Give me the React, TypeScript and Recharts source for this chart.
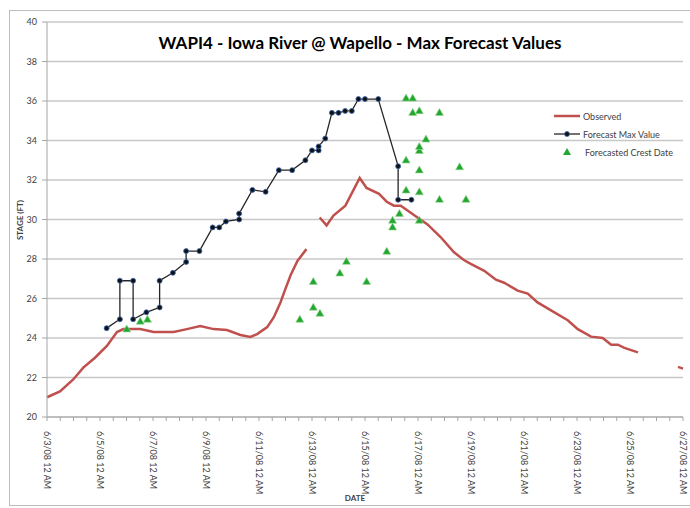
import React from "react";
import {
  ComposedChart,
  Line,
  Scatter,
  XAxis,
  YAxis,
  CartesianGrid,
  Legend,
} from "recharts";

// x values are days since 6/3/08 12 AM
const dateLabels = [
  "6/3/08 12 AM", "6/5/08 12 AM", "6/7/08 12 AM", "6/9/08 12 AM",
  "6/11/08 12 AM", "6/13/08 12 AM", "6/15/08 12 AM", "6/17/08 12 AM",
  "6/19/08 12 AM", "6/21/08 12 AM", "6/23/08 12 AM", "6/25/08 12 AM",
  "6/27/08 12 AM",
];
const stageTicks = [20, 22, 24, 26, 28, 30, 32, 34, 36, 38, 40];

// observed stage (null = missing record)
const observed: [number, number | null][] = [
  [0, 21.0], [0.49, 21.3], [0.99, 21.9], [1.37, 22.5], [1.81, 23.0],
  [2.26, 23.6], [2.64, 24.3], [2.88, 24.45], [3.52, 24.45], [4.02, 24.3],
  [4.78, 24.3], [5.28, 24.45], [5.78, 24.6], [6.29, 24.45], [6.79, 24.4],
  [7.3, 24.15], [7.67, 24.05], [7.93, 24.2], [8.31, 24.55], [8.56, 25.05],
  [8.81, 25.8], [9.0, 26.5], [9.2, 27.2], [9.45, 27.9], [9.79, 28.5],
  [10.0, null],
  [10.29, 30.1], [10.55, 29.7], [10.81, 30.2], [11.26, 30.7], [11.8, 32.1],
  [12.06, 31.6], [12.53, 31.3], [12.82, 30.9], [13.09, 30.7], [13.35, 30.7],
  [13.98, 30.1], [14.36, 29.75], [14.86, 29.1], [15.35, 28.35], [15.73, 27.95],
  [15.99, 27.75], [16.5, 27.4], [16.94, 26.95], [17.25, 26.8], [17.76, 26.4],
  [18.14, 26.25], [18.51, 25.8], [19.02, 25.4], [19.65, 24.9], [20.03, 24.45],
  [20.53, 24.07], [20.97, 24.0], [21.29, 23.66], [21.54, 23.66], [21.79, 23.5],
  [22.3, 23.27],
  [23.0, null],
  [23.81, 22.54], [24.0, 22.45],
];

const forecastMax: [number, number][] = [
  [2.25, 24.5], [2.75, 24.95], [2.75, 26.9], [3.25, 26.9], [3.25, 24.95],
  [3.75, 25.3], [4.25, 25.55], [4.25, 26.9], [4.75, 27.3], [5.25, 27.85],
  [5.25, 28.4], [5.75, 28.4], [6.25, 29.6], [6.5, 29.6], [6.75, 29.9],
  [7.25, 30.0], [7.25, 30.3], [7.75, 31.5], [8.25, 31.4], [8.75, 32.5],
  [9.25, 32.5], [9.75, 33.0], [10.0, 33.5], [10.25, 33.5], [10.25, 33.7],
  [10.5, 34.1], [10.75, 35.4], [11.0, 35.4], [11.25, 35.5], [11.5, 35.5],
  [11.75, 36.1], [12.0, 36.1], [12.5, 36.1], [13.25, 32.7], [13.25, 31.0],
  [13.75, 31.0],
];

const crestDates: [number, number][] = [
  [3.01, 24.46], [3.52, 24.85], [3.79, 24.95], [9.54, 24.95], [10.05, 25.56],
  [10.3, 25.25], [10.05, 26.86], [11.05, 27.29], [11.3, 27.88], [12.06, 26.86],
  [12.82, 28.39], [13.04, 29.62], [13.04, 29.96], [13.3, 30.31], [14.05, 29.96],
  [13.55, 31.49], [14.05, 31.4], [14.81, 31.02], [15.81, 31.02], [13.55, 33.01],
  [14.05, 32.51], [15.57, 32.67], [14.05, 33.49], [14.05, 33.69], [14.3, 34.07],
  [13.8, 35.42], [14.05, 35.51], [14.81, 35.42], [13.55, 36.15], [13.8, 36.15],
];

const toRows = (arr: [number, number | null][]) => arr.map(([d, v]) => ({ d, v }));

const xTicks = Array.from({ length: 49 }, (_, i) => i / 2);

const RED = "#c0504d";
const GREEN = "#22a832";

function DateTick(props: any) {
  const { x, y, payload } = props;
  const i = payload.value / 2;
  const label = Number.isInteger(i) ? dateLabels[i] : "";
  return (
    <g transform={`translate(${x},${y})`}>
      <text transform="rotate(90)" x={8} dy="0.35em" fontSize={9} fill="#404040">
        {label}
      </text>
    </g>
  );
}

function Triangle(props: any) {
  const { cx, cy } = props;
  if (cx == null || cy == null) return null;
  return (
    <polygon
      points={`${cx},${cy - 4} ${cx + 4},${cy + 3} ${cx - 4},${cy + 3}`}
      fill={GREEN}
      stroke="#9ad48f"
      strokeWidth={0.6}
    />
  );
}

function LegendBox() {
  const row = { display: "flex", alignItems: "center", height: 18, fontSize: 9, color: "#404040" };
  return (
    <div style={{ fontFamily: "Lato, sans-serif" }}>
      <div style={row}>
        <svg width={27} height={10}>
          <line x1={0} y1={5} x2={26} y2={5} stroke={RED} strokeWidth={2.5} />
        </svg>
        <span style={{ marginLeft: 2 }}>Observed</span>
      </div>
      <div style={row}>
        <svg width={27} height={10}>
          <line x1={0} y1={5} x2={26} y2={5} stroke="#262626" strokeWidth={1.3} />
          <circle cx={13} cy={5} r={2.5} fill="#111" stroke="#3d6bb3" strokeWidth={0.8} />
        </svg>
        <span style={{ marginLeft: 2 }}>Forecast Max Value</span>
      </div>
      <div style={row}>
        <svg width={27} height={10}>
          <polygon points="13,1 17,8 9,8" fill={GREEN} />
        </svg>
        <span style={{ marginLeft: 4 }}>Forecasted Crest Date</span>
      </div>
    </div>
  );
}

export default function App() {
  return (
    <div
      style={{
        position: "absolute",
        left: 0,
        top: 0,
        width: 690,
        height: 508,
        background: "#fff",
        fontFamily: "Lato, sans-serif",
        overflow: "hidden",
      }}
    >
      <div
        style={{
          position: "absolute",
          left: 9,
          top: 10,
          width: 690,
          height: 494,
          border: "1px solid #bcbcbc",
        }}
      />
      <div style={{ position: "absolute", left: 0, top: 0 }}>
        <ComposedChart width={690} height={508} margin={{ top: 22, right: 7, bottom: 11, left: 0 }}>
          <CartesianGrid vertical={false} stroke="#c8c8c8" strokeWidth={1.4} />
          <XAxis
            dataKey="d"
            type="number"
            domain={[0, 24]}
            ticks={xTicks}
            interval={0}
            height={80}
            tick={<DateTick />}
            tickSize={4}
            stroke="#a6a6a6"
          />
          <YAxis
            dataKey="v"
            type="number"
            domain={[20, 40]}
            ticks={stageTicks}
            width={47}
            tickSize={5}
            tickMargin={5}
            stroke="#a6a6a6"
            tick={{ fontSize: 9, fill: "#404040" }}
          />
          <Legend
            layout="vertical"
            align="center"
            verticalAlign="middle"
            content={<LegendBox />}
            wrapperStyle={{ left: 554, top: 107, width: 136 }}
          />
          <Line
            data={toRows(observed)}
            dataKey="v"
            type="linear"
            stroke={RED}
            strokeWidth={2.5}
            dot={false}
            connectNulls={false}
            isAnimationActive={false}
          />
          <Line
            data={toRows(forecastMax)}
            dataKey="v"
            type="linear"
            stroke="#262626"
            strokeWidth={1.3}
            dot={{ r: 2.5, fill: "#111", stroke: "#3d6bb3", strokeWidth: 0.8 }}
            isAnimationActive={false}
          />
          <Scatter
            data={toRows(crestDates)}
            dataKey="v"
            shape={<Triangle />}
            isAnimationActive={false}
          />
        </ComposedChart>
      </div>
      <div
        style={{
          position: "absolute",
          left: 0,
          width: 720,
          top: 32,
          textAlign: "center",
          fontSize: 17,
          fontWeight: 700,
          color: "#000",
        }}
      >
        WAPI4 - Iowa River @ Wapello - Max Forecast Values
      </div>
      <div
        style={{
          position: "absolute",
          left: 335,
          top: 493,
          width: 40,
          textAlign: "center",
          fontSize: 8,
          fontWeight: 700,
          color: "#404040",
        }}
      >
        DATE
      </div>
      <div
        style={{
          position: "absolute",
          left: 20,
          top: 220,
          fontSize: 8,
          fontWeight: 700,
          color: "#404040",
          whiteSpace: "nowrap",
          transform: "translate(-50%, -50%) rotate(-90deg)",
        }}
      >
        STAGE (FT)
      </div>
    </div>
  );
}
